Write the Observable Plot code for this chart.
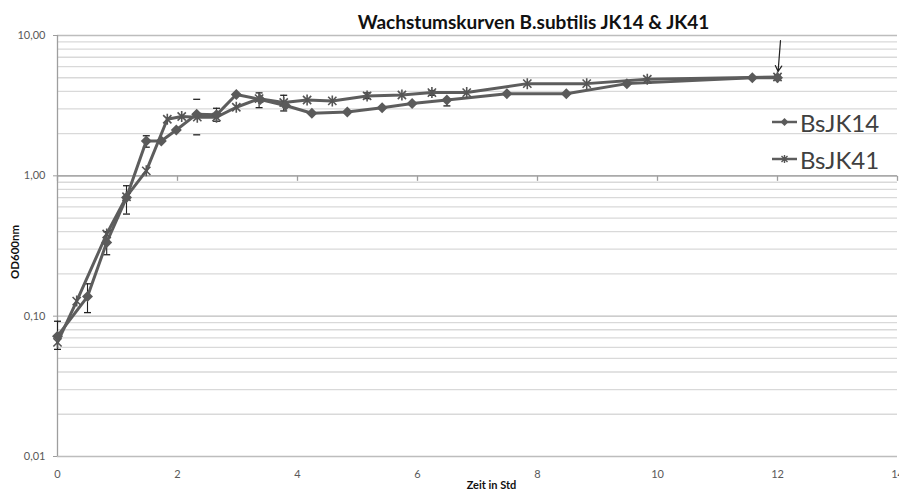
<!DOCTYPE html>
<html><head><meta charset="utf-8">
<script src="https://cdn.jsdelivr.net/npm/d3@7"></script>
<script src="https://cdn.jsdelivr.net/npm/@observablehq/plot@0.6"></script>
<style>
body{margin:0;background:#fff;}
#wrap{position:relative;width:899px;height:492px;font-family:Lato,"Open Sans",sans-serif;overflow:hidden;}
.leg{position:absolute;left:771px;height:30px;display:flex;align-items:center;font-size:24px;color:#404040;}
.leg svg{display:block;margin-right:2px;}
</style></head><body>
<div id="wrap"><div id="chart"></div></div>
<script>
// ---- data ----
const timesJK14 = [0, 0.5, 0.82, 1.15, 1.48, 1.73, 1.98, 2.32, 2.65, 2.98, 3.38, 3.8, 4.24, 4.83, 5.41, 5.91, 6.49, 7.49, 8.48, 9.49, 11.58, 12.0];
const odJK14    = [0.072, 0.138, 0.335, 0.70, 1.77, 1.77, 2.12, 2.75, 2.72, 3.8, 3.5, 3.17, 2.79, 2.85, 3.06, 3.28, 3.47, 3.85, 3.85, 4.54, 5.0, 5.0];
const timesJK41 = [0, 0.32, 0.82, 1.15, 1.48, 1.83, 2.07, 2.33, 2.65, 2.98, 3.36, 3.77, 4.16, 4.58, 5.16, 5.74, 6.24, 6.82, 7.83, 8.82, 9.83, 12.0];
const odJK41    = [0.065, 0.128, 0.385, 0.71, 1.085, 2.53, 2.65, 2.62, 2.62, 3.08, 3.55, 3.33, 3.47, 3.42, 3.71, 3.77, 3.92, 3.92, 4.54, 4.54, 4.88, 5.06];
const errTimes  = [0, 0.5, 0.82, 1.15, 1.48, 2.32, 2.65, 3.36, 3.77, 5.16, 6.24, 6.49, 12.0];
const errLow    = [0.058, 0.106, 0.274, 0.534, 1.60, 1.96, 2.45, 3.06, 2.9, 3.55, 3.75, 3.15, 4.85];
const errHigh   = [0.092, 0.170, 0.40, 0.85, 1.93, 3.51, 3.03, 3.9, 3.75, 3.9, 4.05, 3.46, 5.25];
const errStem   = [true, true, true, true, true, false, true, true, true, true, true, true, true];
const seriesNames = ["BsJK14", "BsJK41"];
const xTicks = [0, 2, 4, 6, 8, 10, 12, 14];
const yTicks = [0.01, 0.1, 1, 10];
const yTickLabels = ["0,01", "0,10", "1,00", "10,00"];
const arrowTimes = [12.05, 12.01];
const arrowOD = [9.2, 5.55];
const titleText = "Wachstumskurven B.subtilis JK14 & JK41";
const xLabel = "Zeit in Std";
const yLabel = "OD600nm";

// ---- derived tables ----
const jk14 = timesJK14.map((t, i) => ({t, od: odJK14[i]}));
const jk41 = timesJK41.map((t, i) => ({t, od: odJK41[i]}));
const errs = errTimes.map((t, i) => ({t, lo: errLow[i], hi: errHigh[i], stem: errStem[i]}));
const minorGrid = [];
for (const d of [0.01, 0.1, 1]) for (let k = 2; k <= 9; k++) minorGrid.push(d * k);
const arrowData = [{x1: arrowTimes[0], y1: arrowOD[0], x2: arrowTimes[1], y2: arrowOD[1]}];

const rad = s => Math.sqrt(s / Math.PI);
const diamondSym = {draw(c, s){const r = rad(s); c.moveTo(0,-r); c.lineTo(r,0); c.lineTo(0,r); c.lineTo(-r,0); c.closePath();}};
const starSym = {draw(c, s){const r = rad(s), a = r*0.75; c.moveTo(0,-r); c.lineTo(0,r); c.moveTo(-a,-a); c.lineTo(a,a); c.moveTo(-a,a); c.lineTo(a,-a);}};
const vtickSym = {draw(c, s){c.moveTo(0,0); c.lineTo(0,5);}};
const capSym = {draw(c, s){c.moveTo(-3.5,0); c.lineTo(3.5,0);}};

const lineColor = "#5d5d5d";

const chart = Plot.plot({
  width: 899, height: 492,
  marginLeft: 57, marginRight: 2, marginTop: 35, marginBottom: 36,
  style: {fontFamily: "Lato, 'Open Sans', sans-serif", fontSize: "11px", color: "#595959", background: "#fff"},
  x: {domain: [0, 14]},
  y: {type: "log", domain: [0.01, 10]},
  marks: [
    Plot.ruleY(minorGrid, {stroke: "#d9d9d9", strokeWidth: 1.3}),
    Plot.ruleY(yTicks, {stroke: "#bdbdbd", strokeWidth: 1.3}),
    Plot.ruleY([1], {stroke: "#9e9e9e", strokeWidth: 1.3}),
    Plot.ruleX([0], {stroke: "#9e9e9e", strokeWidth: 1.3}),
    Plot.dot(xTicks, {x: d => d, y: () => 1, symbol: vtickSym, r: 3, stroke: "#9e9e9e", strokeWidth: 1.3, fill: "none"}),
    Plot.axisY({ticks: yTicks, tickFormat: d => yTickLabels[yTicks.indexOf(d)], tickSize: 4, tickPadding: 8, stroke: "#9e9e9e", label: null}),
    Plot.axisX({ticks: xTicks, tickFormat: d => String(d), tickSize: 0, tickPadding: 14, label: null}),
    Plot.text([yLabel], {frameAnchor: "left", textAnchor: "middle", lineAnchor: "middle", rotate: -90, dx: -42, dy: 6, fontWeight: "bold", fontSize: 11.5, fill: "#111"}),
    Plot.text([xLabel], {frameAnchor: "bottom", textAnchor: "middle", lineAnchor: "middle", dx: 14, dy: 29, fontWeight: "bold", fontSize: 11, fill: "#111"}),
    Plot.text([titleText], {frameAnchor: "top", textAnchor: "middle", lineAnchor: "middle", dx: 56, dy: -13, fontWeight: "bold", fontSize: 19, fill: "#111", letterSpacing: "0.2px"}),
    Plot.ruleX(errs.filter(d => d.stem), {x: "t", y1: "lo", y2: "hi", stroke: "#222", strokeWidth: 1.1}),
    Plot.dot(errs, {x: "t", y: "lo", symbol: capSym, r: 3, stroke: "#222", strokeWidth: 1.3, fill: "none"}),
    Plot.dot(errs, {x: "t", y: "hi", symbol: capSym, r: 3, stroke: "#222", strokeWidth: 1.3, fill: "none"}),
    Plot.line(jk41, {x: "t", y: "od", stroke: lineColor, strokeWidth: 3}),
    Plot.line(jk14, {x: "t", y: "od", stroke: lineColor, strokeWidth: 3}),
    Plot.dot(jk41, {x: "t", y: "od", symbol: starSym, r: 5.5, stroke: "#555", strokeWidth: 1.6, fill: "none"}),
    Plot.dot(jk14, {x: "t", y: "od", symbol: diamondSym, r: 5.5, fill: "#5a5a5a", stroke: "none"}),
    Plot.arrow(arrowData, {x1: "x1", y1: "y1", x2: "x2", y2: "y2", stroke: "#222", strokeWidth: 1.2, headLength: 8, bend: 0})
  ]
});
const wrap = document.getElementById("wrap");
document.getElementById("chart").appendChild(chart);

// ---- legend ----
const legendSyms = [diamondSym, starSym];
const legendTops = [107, 144];
seriesNames.forEach((name, i) => {
  const row = document.createElement("div");
  row.className = "leg";
  row.style.top = legendTops[i] + "px";
  const svg = d3.create("svg").attr("width", 27).attr("height", 14);
  svg.append("line").attr("x1", 1).attr("x2", 26).attr("y1", 7).attr("y2", 7).attr("stroke", lineColor).attr("stroke-width", 2.5);
  const p = d3.path(); legendSyms[i].draw(p, Math.PI * 16);
  svg.append("path").attr("transform", "translate(13.5,7)").attr("d", p.toString())
     .attr("fill", i === 0 ? "#5a5a5a" : "none").attr("stroke", i === 0 ? "none" : "#555").attr("stroke-width", 1.4);
  row.appendChild(svg.node());
  const span = document.createElement("span");
  span.textContent = name;
  row.appendChild(span);
  wrap.appendChild(row);
});
</script>
</body></html>
